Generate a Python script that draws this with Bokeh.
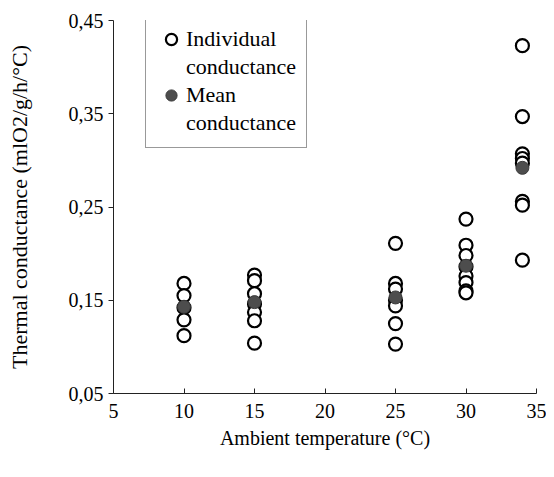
from bokeh.plotting import figure
from bokeh.models import Legend, LegendItem, FixedTicker
from bokeh.embed import file_html
from bokeh.resources import INLINE

# Data
temperatures = [10, 15, 25, 30, 34]
individual_10 = [0.168, 0.155, 0.142, 0.129, 0.112]
individual_15 = [0.177, 0.171, 0.157, 0.146, 0.137, 0.128, 0.104]
individual_25 = [0.211, 0.168, 0.162, 0.150, 0.144, 0.125, 0.103]
individual_30 = [0.237, 0.209, 0.198, 0.186, 0.176, 0.169, 0.160, 0.158]
individual_34 = [0.423, 0.347, 0.307, 0.302, 0.297, 0.256, 0.252, 0.193]
mean_conductance = [0.143, 0.148, 0.153, 0.187, 0.292]

x_ticks = [5, 10, 15, 20, 25, 30, 35]
y_ticks = [0.05, 0.15, 0.25, 0.35, 0.45]
y_tick_labels = ["0,05", "0,15", "0,25", "0,35", "0,45"]

groups = [individual_10, individual_15, individual_25, individual_30, individual_34]
ind_x, ind_y = [], []
for t, vals in zip(temperatures, groups):
    for v in vals:
        ind_x.append(t)
        ind_y.append(v)

FONT = "Liberation Serif"

p = figure(width=546, height=465, output_backend="svg", toolbar_location=None,
           x_range=(5, 35), y_range=(0.05, 0.45),
           min_border_left=113, min_border_right=10, min_border_top=20, min_border_bottom=72)
p.outline_line_color = None
p.grid.visible = False
p.background_fill_color = "white"
p.border_fill_color = "white"

r_ind = p.scatter(ind_x, ind_y, size=13, marker="circle", fill_color="white",
                  line_color="black", line_width=2.2)
r_mean = p.scatter(temperatures, mean_conductance, size=13, marker="circle",
                   fill_color="#4d4d4d", line_color="#3a3a3a", line_width=1)
r_blank = p.scatter([], [], marker="circle", fill_alpha=0, line_alpha=0)

p.xaxis.ticker = FixedTicker(ticks=x_ticks)
p.yaxis.ticker = FixedTicker(ticks=y_ticks)
p.yaxis.major_label_overrides = {t: l for t, l in zip(y_ticks, y_tick_labels)}
p.xaxis.major_tick_in = 5
p.xaxis.major_tick_out = 0
p.yaxis.major_tick_in = 0
p.yaxis.major_tick_out = 5
p.axis.minor_tick_line_color = None
p.axis.axis_line_color = "#222222"
p.axis.major_tick_line_color = "#222222"
p.axis.major_label_text_font = FONT
p.axis.major_label_text_font_size = "20px"
p.axis.major_label_text_color = "black"
p.axis.axis_label_text_font = FONT
p.axis.axis_label_text_font_style = "normal"
p.axis.axis_label_text_color = "black"
p.xaxis.axis_label_text_font_size = "20px"
p.yaxis.axis_label_text_font_size = "22px"
p.xaxis.axis_label = "Ambient temperature (°C)"
p.yaxis.axis_label = "Thermal conductance (mlO2/g/h/°C)"
p.xaxis.major_label_standoff = 10
p.xaxis.axis_label_standoff = 6
p.yaxis.major_label_standoff = 5
p.yaxis.axis_label_standoff = 34

legend = Legend(items=[LegendItem(label="Individual", renderers=[r_ind]),
                       LegendItem(label="conductance", renderers=[r_blank]),
                       LegendItem(label="Mean", renderers=[r_mean]),
                       LegendItem(label="conductance", renderers=[r_blank])],
                location=(32, 245))
legend.label_text_font = FONT
legend.label_text_font_size = "22px"
legend.label_text_color = "black"
legend.glyph_width = 30
legend.glyph_height = 28
legend.label_height = 28
legend.label_standoff = 0
legend.spacing = 0
legend.padding = 10
legend.margin = 0
legend.border_line_color = "#333333"
legend.border_line_width = 1
legend.background_fill_color = "white"
legend.background_fill_alpha = 1.0
p.add_layout(legend)

open("out.html", "w").write(file_html(p, INLINE))
